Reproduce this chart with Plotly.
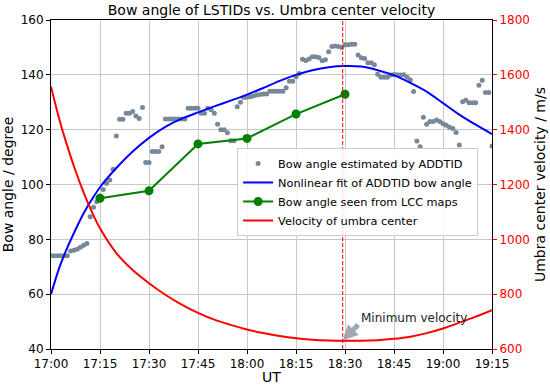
import pandas as pd
import plotly.graph_objects as go

BASE = pd.Timestamp("2017-08-21 17:00")

# ADDTID bow angle estimates (one per minute from 17:00)
bow_minutes = list(range(0, 136))
bow_values = [
    74, 74, 74, 74, 74, 74, 75.7, 76, 76.4, 77.1, 77.8, 78.5,
    88.2, 91.7, 93.7, 95.8, 98.2, 100.4, 101.6, 105.6, 117.7, 123.8, 123.8, 126,
    126, 126.6, 125, 124.1, 128.1, 108, 108, 112, 112, 112, 113.8, 123.9,
    123.9, 123.9, 123.9, 123.9, 123.9, 123.9, 127.8, 127.8, 127.8, 127.8, 126, 126,
    127.8, 127.3, 126, 122, 120, 120, 118.9, 116, 116, 128.4, 130, 131.7,
    131.8, 132, 132.3, 132.6, 132.8, 133, 133, 134, 134, 134, 134, 134,
    135.3, 137.7, 137.7, 139.3, 140.5, 145.7, 145.2, 145.8, 146.6, 146.6, 146.3, 145.1,
    145.5, 148.4, 150.3, 150.5, 150.3, 150, 151, 151, 151.2, 151.2, 147.2, 146.2,
    146, 144.4, 144.4, 143.7, 140.2, 139.1, 139.1, 139.1, 139.9, 140.1, 140, 139.9,
    140, 139.1, 138.1, 133.9, 115.9, 113.8, 124.5, 122, 123, 123, 123.5, 123,
    122.2, 121.6, 120.9, 120.4, 119, 114.4, 130.2, 130.7, 129.8, 129.8, 129.8, 136.2,
    138, 133.6, 133.6, 114,
]

# Nonlinear fit of ADDTID bow angle (sampled read-offs)
fit_minutes = [0, 2.5, 5, 7.5, 10, 12.5, 15, 20, 25, 30, 35, 40, 45, 50, 55, 60, 65,
               70, 75, 80, 85, 90, 95, 100, 105, 110, 115, 120, 125, 130, 135]
fit_values = [60, 69.5, 77, 83.5, 89.5, 94.5, 99, 106, 112, 117, 121, 124, 126.3,
              128.5, 130.6, 132.8, 135.2, 137.8, 140, 141.7, 142.8, 143.2, 143,
              141.7, 139.8, 137.1, 133.9, 129.7, 125.5, 121.8, 118.4]

# Bow angle seen from LCC maps
lcc_minutes = [15, 30, 45, 60, 75, 90]
lcc_values = [95, 97.7, 114.8, 116.8, 125.7, 132.9]

# Velocity of umbra center (m/s)
vel_minutes = [0, 2.5, 5, 7.5, 10, 12.5, 15, 20, 25, 30, 35, 40, 45, 50, 55, 60, 65,
               70, 75, 80, 85, 90, 95, 100, 105, 110, 115, 120, 125, 130, 135]
vel_values = [1557, 1440, 1340, 1250, 1170, 1100, 1040, 950, 888, 840, 798, 762, 732,
              707, 688, 671, 658, 647, 639, 634, 631, 630, 630, 632, 637, 645, 658,
              675, 696, 718, 742]

min_vel_minute = 89.3
min_vel_value = 632
label_minute = 94.3
label_value = 713

x_ticks_minutes = [0, 15, 30, 45, 60, 75, 90, 105, 120, 135]


def t(mins):
    return [BASE + pd.Timedelta(minutes=m) for m in mins]


FONT = "DejaVu Sans"

fig = go.Figure()
fig.add_trace(go.Scatter(
    x=t(bow_minutes), y=bow_values, mode="markers",
    marker=dict(size=5, color="#778899"),
    name="Bow angle estimated by ADDTID"))
fig.add_trace(go.Scatter(
    x=t(fit_minutes), y=fit_values, mode="lines",
    line=dict(color="#0000ff", width=2, shape="spline", smoothing=0.8),
    name="Nonlinear fit of ADDTID bow angle"))
fig.add_trace(go.Scatter(
    x=t(lcc_minutes), y=lcc_values, mode="lines+markers",
    line=dict(color="#008000", width=2), marker=dict(size=9, color="#008000"),
    name="Bow angle seen from LCC maps"))
fig.add_trace(go.Scatter(
    x=t(vel_minutes), y=vel_values, mode="lines", yaxis="y2",
    line=dict(color="#ff0000", width=2, shape="spline", smoothing=0.8),
    name="Velocity of umbra center"))

tmin = BASE + pd.Timedelta(minutes=min_vel_minute)
fig.add_shape(type="line", xref="x", yref="paper", x0=tmin, x1=tmin, y0=0, y1=1,
              line=dict(color="#ff0000", width=1, dash="4px,2px"))

fig.add_annotation(x=tmin, y=min_vel_value, xref="x", yref="y2", text="",
                   showarrow=True, arrowhead=2, arrowsize=0.6, arrowwidth=5,
                   arrowcolor="rgba(150,160,172,0.9)", ax=17, ay=-17)
fig.add_annotation(x=BASE + pd.Timedelta(minutes=label_minute), y=label_value,
                   xref="x", yref="y2", text="Minimum velocity", showarrow=False,
                   xanchor="left", yanchor="middle",
                   font=dict(family=FONT, size=12, color="#222222"))

fig.update_layout(
    width=550, height=385,
    margin=dict(l=51, r=58, t=20, b=36),
    paper_bgcolor="white", plot_bgcolor="white",
    font=dict(family=FONT, size=12, color="black"),
    title=dict(text="Bow angle of LSTIDs vs. Umbra center velocity",
               x=0.4936, xanchor="center",
               y=1 - 10 / 385, yanchor="middle", yref="container",
               font=dict(family=FONT, size=14, color="black")),
    showlegend=True,
    legend=dict(x=0.422, y=0.611, xanchor="left", yanchor="top",
                bgcolor="rgba(255,255,255,0.85)", bordercolor="#cccccc",
                borderwidth=1, font=dict(family=FONT, size=11.3, color="black"),
                tracegroupgap=0),
    xaxis=dict(
        range=[BASE, BASE + pd.Timedelta(minutes=135)],
        tickvals=t(x_ticks_minutes), tickformat="%H:%M",
        showgrid=True, gridcolor="#c8c8c8", gridwidth=1,
        showline=True, linecolor="black", linewidth=1, mirror=True,
        ticks="outside", ticklen=4, tickcolor="black", automargin=False,
        title=dict(text="UT", font=dict(family=FONT, size=14), standoff=2),
        zeroline=False),
    yaxis=dict(
        range=[40, 160], dtick=20,
        showgrid=True, gridcolor="#c8c8c8", gridwidth=1,
        showline=True, linecolor="black", linewidth=1, mirror=True,
        ticks="outside", ticklen=4, tickcolor="black", automargin=False,
        title=dict(text="Bow angle / degree", font=dict(family=FONT, size=14), standoff=3),
        zeroline=False),
    yaxis2=dict(
        range=[600, 1800], dtick=200, overlaying="y", side="right",
        showgrid=False, showline=True, linecolor="black", linewidth=1,
        ticks="outside", ticklen=4, tickcolor="#ff0000", automargin=False,
        tickfont=dict(color="#ff0000", family=FONT, size=12),
        title=dict(text="Umbra center velocity / m/s", font=dict(family=FONT, size=14, color="black"), standoff=6),
        zeroline=False),
)

fig.write_html("out.html", config={"displayModeBar": False},
               post_script="document.body.style.margin='0';")
